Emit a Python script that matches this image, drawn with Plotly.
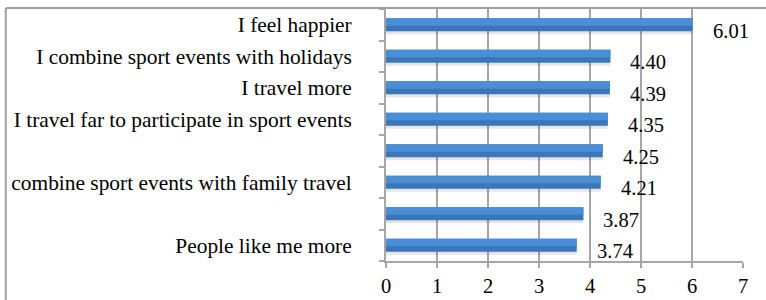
import plotly.graph_objects as go

# Data (bottom to top)
categories = [
    "People like me more",
    "item 7",
    "combine sport events with family travel",
    "item 5",
    "I travel far to participate in sport events",
    "I travel more",
    "I combine sport events with holidays",
    "I feel happier",
]
tick_labels = [
    "People like me more",
    "",
    "combine sport events with family travel",
    "",
    "I travel far to participate in sport events",
    "I travel more",
    "I combine sport events with holidays",
    "I feel happier",
]
values = [3.74, 3.87, 4.21, 4.25, 4.35, 4.39, 4.40, 6.01]
x_ticks = [0, 1, 2, 3, 4, 5, 6, 7]

FONT = "Liberation Serif, Times New Roman, serif"
GRID = "#a6a6a6"

fig = go.Figure()
# soft shadow
fig.add_trace(go.Bar(y=categories, x=values, orientation="h", width=0.46, offset=-0.30,
                     marker=dict(color="rgba(0,0,0,0.10)", line=dict(width=0)),
                     hoverinfo="skip", showlegend=False))
# main bar (darker lower part)
fig.add_trace(go.Bar(y=categories, x=values, orientation="h", width=0.42, offset=-0.21,
                     marker=dict(color="#3b76ba", line=dict(width=0)), showlegend=False))
# lighter upper part
fig.add_trace(go.Bar(y=categories, x=values, orientation="h", width=0.24, offset=-0.03,
                     marker=dict(color="#4a8fd6", line=dict(width=0)),
                     hoverinfo="skip", showlegend=False))

for c, v in zip(categories, values):
    fig.add_annotation(x=v, y=c, text=f"{v:.2f}", showarrow=False,
                       xanchor="left", yanchor="middle", xshift=18, yshift=-6,
                       font=dict(family=FONT, size=20.5, color="#000000"))

# outer chart border (left and top edges)
fig.add_shape(type="line", xref="paper", yref="paper", x0=-1.065, x1=1.2, y0=1.004, y1=1.004,
              line=dict(color="#a0a0a0", width=2))
fig.add_shape(type="line", xref="paper", yref="paper", x0=-1.065, x1=-1.065, y0=1.004, y1=-0.3,
              line=dict(color="#a0a0a0", width=2))

fig.update_layout(
    width=766, height=300,
    margin=dict(l=386, r=23, t=9, b=39, autoexpand=False),
    paper_bgcolor="white", plot_bgcolor="white",
    barmode="overlay",
    font=dict(family=FONT, size=21.4, color="#000000"),
    xaxis=dict(range=[0, 7], tickvals=x_ticks, ticktext=[str(t) for t in x_ticks],
               showgrid=True, gridcolor=GRID, gridwidth=1.5,
               showline=True, linecolor=GRID, linewidth=1.5,
               ticks="outside", ticklen=5, tickcolor=GRID, tickwidth=1.5,
               ticklabelstandoff=1, automargin=False,
               tickfont=dict(family=FONT, size=20.5), zeroline=False, fixedrange=True),
    yaxis=dict(type="category", categoryorder="array", categoryarray=categories,
               tickvals=categories, ticktext=tick_labels,
               range=[-0.5, 7.5], automargin=False,
               showgrid=False, showline=True, linecolor=GRID, linewidth=2,
               ticks="outside", ticklen=5, tickcolor=GRID, tickwidth=1.5,
               tickson="boundaries", ticklabelstandoff=28,
               tickfont=dict(family=FONT, size=21.4), fixedrange=True),
)

fig.write_html("out.html", config={"displayModeBar": False},
               post_script="document.body.style.margin='0';document.body.style.overflow='hidden';")
